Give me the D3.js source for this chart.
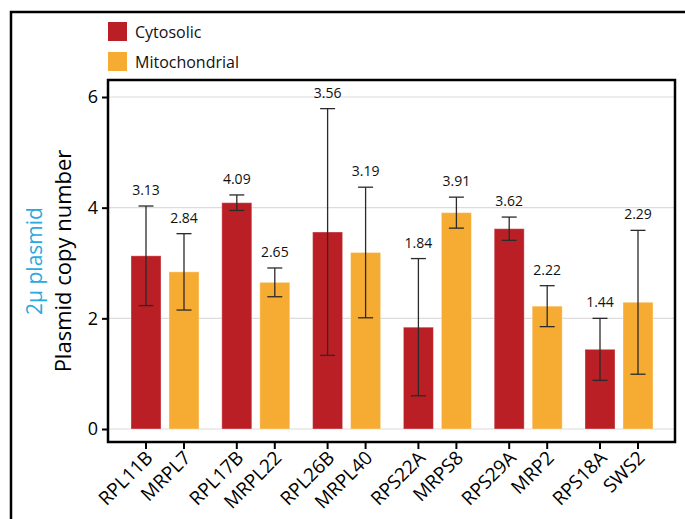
<!DOCTYPE html>
<html>
<head>
<meta charset="utf-8">
<script src="https://cdn.jsdelivr.net/npm/d3@7"></script>
<style>
  html, body { margin: 0; padding: 0; background: #fff; }
  svg { display: block; font-family: "Open Sans", Lato, sans-serif; }
</style>
</head>
<body>
<div id="chart"></div>
<script>
// Plasmid copy number for cytosolic vs mitochondrial ribosomal genes
const groups = ["G1", "G2", "G3", "G4", "G5", "G6"];
const types = ["Cytosolic", "Mitochondrial"];
const cytoGenes = ["RPL11B", "RPL17B", "RPL26B", "RPS22A", "RPS29A", "RPS18A"];
const mitoGenes = ["MRPL7", "MRPL22", "MRPL40", "MRPS8", "MRP2", "SWS2"];
const cytoValues = [3.13, 4.09, 3.56, 1.84, 3.62, 1.44];
const mitoValues = [2.84, 2.65, 3.19, 3.91, 2.22, 2.29];
const cytoErr = [0.90, 0.14, 2.23, 1.24, 0.21, 0.56];
const mitoErr = [0.69, 0.26, 1.18, 0.28, 0.37, 1.30];
const yTicks = [0, 2, 4, 6];

const colors = { Cytosolic: "#BB1F26", Mitochondrial: "#F6AC33" };

const rows = [];
groups.forEach((g, i) => {
  rows.push({ group: g, type: "Cytosolic", gene: cytoGenes[i], value: cytoValues[i], err: cytoErr[i] });
  rows.push({ group: g, type: "Mitochondrial", gene: mitoGenes[i], value: mitoValues[i], err: mitoErr[i] });
});

const W = 685, H = 519;
const box = { left: 108, top: 80, right: 675, bottom: 442 };

const svg = d3.select("#chart").append("svg")
  .attr("width", W).attr("height", H);

// outer frame (runs off the right and bottom edges)
svg.append("rect")
  .attr("x", 11).attr("y", 12)
  .attr("width", W + 20).attr("height", H + 20)
  .attr("fill", "none").attr("stroke", "#000").attr("stroke-width", 2.5);

const x0 = d3.scaleBand().domain(groups).range([119.6, 664.4]);
const x1 = d3.scaleBand().domain(types).range([0, x0.bandwidth()])
  .paddingInner(0.21).paddingOuter(0.3);
const y = d3.scaleLinear().domain([0, 6]).range([429, 97]);

// gridlines
svg.append("g").selectAll("line")
  .data(yTicks)
  .join("line")
  .attr("x1", box.left).attr("x2", box.right)
  .attr("y1", d => y(d)).attr("y2", d => y(d))
  .attr("stroke", "#dcdcdc").attr("stroke-width", 1.2);

// bars
const barX = d => x0(d.group) + x1(d.type);
svg.append("g").selectAll("rect")
  .data(rows)
  .join("rect")
  .attr("x", barX)
  .attr("y", d => y(d.value))
  .attr("width", x1.bandwidth())
  .attr("height", d => y(0) - y(d.value))
  .attr("fill", d => colors[d.type])
  .attr("stroke", "#fff").attr("stroke-opacity", 0.35).attr("stroke-width", 1);

// error bars
const cx = d => barX(d) + x1.bandwidth() / 2;
const cap = 7.5;
const eb = svg.append("g").attr("stroke", "#2a2a2a").attr("stroke-width", 1.3);
eb.selectAll(".v").data(rows).join("line")
  .attr("x1", cx).attr("x2", cx)
  .attr("y1", d => y(d.value + d.err)).attr("y2", d => y(d.value - d.err));
eb.selectAll(".t").data(rows).join("line")
  .attr("x1", d => cx(d) - cap).attr("x2", d => cx(d) + cap)
  .attr("y1", d => y(d.value + d.err)).attr("y2", d => y(d.value + d.err));
eb.selectAll(".b").data(rows).join("line")
  .attr("x1", d => cx(d) - cap).attr("x2", d => cx(d) + cap)
  .attr("y1", d => y(d.value - d.err)).attr("y2", d => y(d.value - d.err));

// value labels
svg.append("g").selectAll("text")
  .data(rows)
  .join("text")
  .attr("x", cx)
  .attr("y", d => y(d.value + d.err) - 11)
  .attr("text-anchor", "middle")
  .style("font-size", "14px")
  .style("fill", "#111")
  .text(d => d.value.toFixed(2));

// plot box
svg.append("rect")
  .attr("x", box.left).attr("y", box.top)
  .attr("width", box.right - box.left).attr("height", box.bottom - box.top)
  .attr("fill", "none").attr("stroke", "#000").attr("stroke-width", 2.5);

// y axis
svg.append("g")
  .attr("transform", `translate(${box.left},0)`)
  .call(d3.axisLeft(y).tickValues(yTicks).tickSize(6).tickPadding(4).tickFormat(d3.format("d")))
  .call(g => g.select(".domain").remove())
  .call(g => g.selectAll("line").attr("stroke", "#000").attr("stroke-width", 2))
  .call(g => g.selectAll("text")
    .style("font-size", "18px").style("font-family", "'Open Sans', sans-serif").attr("fill", "#000"));

// x axis ticks and rotated labels
const xa = svg.append("g");
xa.selectAll("line").data(rows).join("line")
  .attr("x1", cx).attr("x2", cx)
  .attr("y1", box.bottom).attr("y2", box.bottom + 7)
  .attr("stroke", "#000").attr("stroke-width", 2);
xa.selectAll("text").data(rows).join("text")
  .attr("transform", d => `translate(${cx(d) + 8},${box.bottom + 17}) rotate(-45)`)
  .attr("text-anchor", "end")
  .style("font-size", "19px")
  .style("fill", "#000")
  .text(d => d.gene);

// y axis titles
svg.append("text")
  .attr("transform", `translate(71,261) rotate(-90)`)
  .attr("text-anchor", "middle")
  .style("font-size", "22px")
  .style("fill", "#000")
  .text("Plasmid copy number");

svg.append("text")
  .attr("transform", `translate(42,261) rotate(-90)`)
  .attr("text-anchor", "middle")
  .style("font-size", "21px")
  .style("fill", "#29A9E0")
  .text("2μ plasmid");

// legend
const legend = svg.append("g");
types.forEach((t, i) => {
  legend.append("rect")
    .attr("x", 108).attr("y", 22 + i * 30)
    .attr("width", 19).attr("height", 19)
    .attr("fill", colors[t]);
  legend.append("text")
    .attr("x", 135).attr("y", 38 + i * 30)
    .style("font-size", "16px")
    .style("fill", "#111")
    .text(t);
});
</script>
</body>
</html>
